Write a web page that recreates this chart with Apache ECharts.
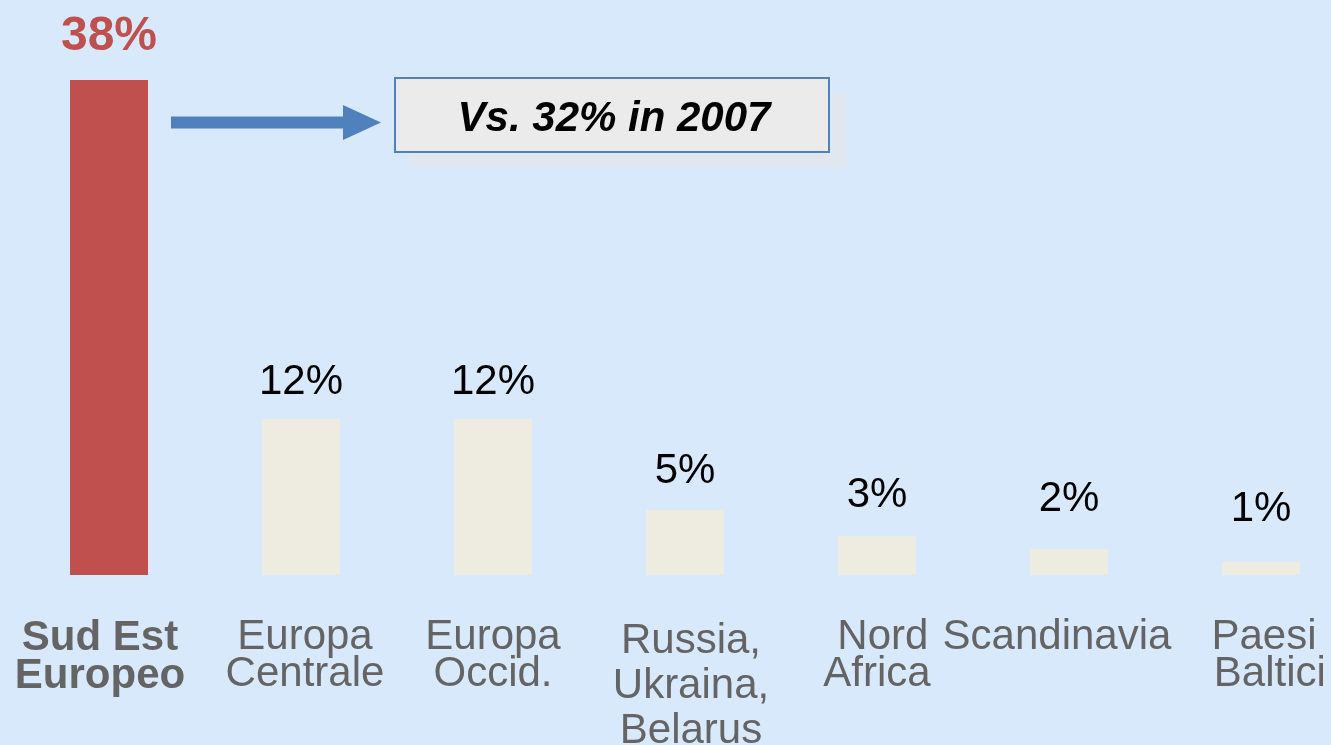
<!DOCTYPE html>
<html>
<head>
<meta charset="utf-8">
<script src="https://cdn.jsdelivr.net/npm/echarts@6/dist/echarts.min.js"></script>
<style>
  html, body { margin: 0; padding: 0; background: #d9e9fc; }
  #chart { width: 1331px; height: 745px; }
</style>
</head>
<body>
<div id="chart"></div>
<script>
// dati
const categories = ['Sud Est\nEuropeo', 'Europa\nCentrale', 'Europa\nOccid.', 'Russia,\nUkraina,\nBelarus', ' Nord\nAfrica', 'Scandinavia', 'Paesi\n Baltici'];
const shares = [38, 12, 12, 5, 3, 2, 1];
const noteText = 'Vs. 32% in 2007';

// stile
const FONT = '"Liberation Sans", Arial, sans-serif';
const RED = '#c0504d';
const BEIGE = '#eeece1';
const GREY = '#646464';
const BLUE = '#4f81bd';
const labelGap = [19, 15, 15, 17, 19, 29, 32];
const labelLineHeight = [38, 37, 37, 45, 37, 37, 37];
const labelPad = [[0, 18, 0, 0], [0, 0, 0, 8], [0, 0, 0, 0], [0, 0, 0, 12], [0, 0, 0, 0], [0, 24, 0, 0], [0, 0, 0, 6]];

const chart = echarts.init(document.getElementById('chart'), null, { renderer: 'canvas' });

const option = {
    backgroundColor: '#d9e9fc',
    animation: false,
    grid: { left: 13, top: 80, width: 1344, height: 495, containLabel: false, outerBoundsMode: 'none' },
    xAxis: {
        type: 'category',
        data: categories.map((c, i) => ({
            value: c,
            textStyle: {
                fontWeight: i === 0 ? 'bold' : 'normal',
                lineHeight: labelLineHeight[i],
                padding: labelPad[i]
            }
        })),
        axisLine: { show: false },
        axisTick: { show: false },
        axisLabel: {
            interval: 0,
            margin: 44,
            color: GREY,
            fontSize: 42,
            fontFamily: FONT,
            hideOverlap: false
        }
    },
    yAxis: {
        type: 'value',
        min: 0,
        max: 38,
        show: false,
        splitLine: { show: false }
    },
    series: [{
        type: 'bar',
        barWidth: 78,
        data: shares.map((v, i) => ({
            value: v,
            itemStyle: { color: i === 0 ? RED : BEIGE },
            label: {
                show: true,
                position: 'top',
                distance: labelGap[i],
                formatter: '{c}%',
                fontFamily: FONT,
                fontSize: i === 0 ? 48 : 42,
                fontWeight: i === 0 ? 'bold' : 'normal',
                color: i === 0 ? RED : '#000'
            }
        }))
    }],
    graphic: [
        // freccia
        {
            type: 'rect',
            shape: { x: 171, y: 116.5, width: 174, height: 12 },
            style: { fill: BLUE }
        },
        {
            type: 'polygon',
            shape: { points: [[343, 105], [381, 122.5], [343, 140]] },
            style: { fill: BLUE }
        },
        // ombra del riquadro
        {
            type: 'rect',
            shape: { x: 411, y: 94, width: 435, height: 74 },
            style: { fill: '#e1e7ef' }
        },
        // riquadro
        {
            type: 'rect',
            shape: { x: 395, y: 78, width: 434, height: 74 },
            style: { fill: '#ebebeb', stroke: BLUE, lineWidth: 2 }
        },
        {
            type: 'text',
            x: 614,
            y: 119,
            style: {
                text: noteText,
                fill: '#000',
                font: 'italic bold 42px ' + FONT,
                align: 'center',
                verticalAlign: 'middle'
            }
        }
    ]
};

chart.setOption(option);
</script>
</body>
</html>
